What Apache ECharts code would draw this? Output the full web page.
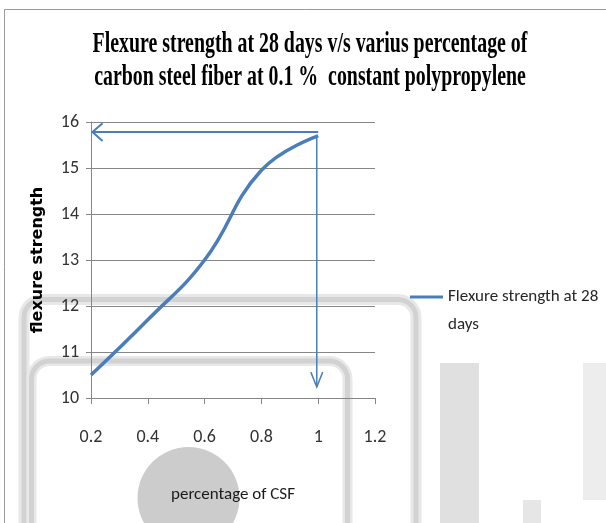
<!DOCTYPE html>
<html>
<head>
<meta charset="utf-8">
<title>Flexure strength</title>
<script src="https://cdn.jsdelivr.net/npm/echarts@6/dist/echarts.min.js"></script>
<style>
  html, body { margin: 0; padding: 0; background: #fff; }
  #chart { width: 606px; height: 523px; }
</style>
</head>
<body>
<div id="chart"></div>
<script>
// 数据
const csfPercent = [0.2, 0.4, 0.6, 0.8, 1.0]
const flexureStrength = [10.5, 11.7, 13.0, 14.95, 15.7]
// 箭头：起点 / 终点（数据坐标）
const arrowFrom = [[1.0, 15.78], [0.995, 15.72]]
const arrowTo = [[0.205, 15.78], [0.995, 10.24]]
const arrowWidth = [2, 1.5]
const titleLines = ['Flexure strength at 28 days v/s varius percentage of', 'carbon steel fiber at 0.1 %  constant polypropylene']

const blue = '#4a7ebb'
const calibri = 'Carlito, "Liberation Sans", sans-serif'

const chart = echarts.init(document.getElementById('chart'))

const option = {
  animation: false,
  backgroundColor: '#fff',
  graphic: [
    // 外框
    { type: 'rect', z: 0, shape: { x: 4.5, y: 9.5, width: 700, height: 600 }, style: { fill: 'none', stroke: '#9a9a9a', lineWidth: 1 } },
    // 背景残影
    { type: 'rect', z: 0, shape: { x: 440, y: 363, width: 39, height: 170 }, style: { fill: '#e0e0e0' } },
    { type: 'rect', z: 0, shape: { x: 583, y: 363, width: 23, height: 137 }, style: { fill: '#ededed' } },
    { type: 'rect', z: 0, shape: { x: 523, y: 500, width: 18, height: 30 }, style: { fill: '#e6e6e6' } },
    { type: 'rect', z: 0, shape: { x: 24, y: 299.5, width: 392, height: 400, r: 18 }, style: { fill: 'none', stroke: '#e8e8e8', lineWidth: 11 } },
    { type: 'rect', z: 0, shape: { x: 24, y: 299.5, width: 392, height: 400, r: 18 }, style: { fill: 'none', stroke: '#d2d2d2', lineWidth: 5 } },
    { type: 'rect', z: 0, shape: { x: 31.5, y: 361, width: 316, height: 300, r: 18 }, style: { fill: 'none', stroke: '#e8e8e8', lineWidth: 10 } },
    { type: 'rect', z: 0, shape: { x: 31.5, y: 361, width: 316, height: 300, r: 18 }, style: { fill: 'none', stroke: '#d2d2d2', lineWidth: 5 } },
    { type: 'circle', z: 0, shape: { cx: 188.5, cy: 498, r: 51 }, style: { fill: '#cccccc' } },
    // 标题
    {
      type: 'text', z: 10, x: 310, y: 45, scaleX: 0.685,
      style: { text: titleLines[0], textAlign: 'center', textVerticalAlign: 'middle', font: 'bold 29px "Liberation Serif", serif', fill: '#000' }
    },
    {
      type: 'text', z: 10, x: 310, y: 78, scaleX: 0.685,
      style: { text: titleLines[1], textAlign: 'center', textVerticalAlign: 'middle', font: 'bold 29px "Liberation Serif", serif', fill: '#000' }
    }
  ],
  legend: {
    left: 410,
    top: 283,
    padding: 0,
    icon: 'path://M0,0h0.01v0.01h-0.01zM0,12.5h33v3h-33zM0,55.99h0.01v0.01h-0.01z',
    itemWidth: 33,
    itemHeight: 56,
    data: ['Flexure strength at 28 days'],
    formatter: () => 'Flexure strength at 28\ndays',
    textStyle: {
      fontFamily: calibri,
      fontSize: 17,
      color: '#262626',
      lineHeight: 28
    }
  },
  grid: {
    left: 91,
    right: 231,
    top: 122,
    bottom: 125
  },
  xAxis: {
    type: 'value',
    min: 0.2,
    max: 1.2,
    interval: 0.2,
    name: 'percentage of CSF',
    nameLocation: 'middle',
    nameGap: 88,
    nameTextStyle: { fontFamily: calibri, fontSize: 17, color: '#1a1a1a' },
    axisLine: { show: true, lineStyle: { color: '#868686', width: 1 } },
    axisTick: { show: true, length: 6, lineStyle: { color: '#868686' } },
    axisLabel: { fontFamily: calibri, fontSize: 18, color: '#333', margin: 30 },
    splitLine: { show: false }
  },
  yAxis: {
    type: 'value',
    min: 10,
    max: 16,
    interval: 1,
    name: 'flexure strength',
    nameLocation: 'middle',
    nameGap: 45,
    nameTextStyle: { fontFamily: '"DejaVu Sans", sans-serif', fontWeight: 'bold', fontSize: 16, color: '#000' },
    axisLine: { show: true, lineStyle: { color: '#868686', width: 1 } },
    axisTick: { show: true, length: 5, lineStyle: { color: '#868686' } },
    axisLabel: { fontFamily: calibri, fontSize: 18, color: '#333', margin: 12 },
    splitLine: { show: true, lineStyle: { color: '#868686', width: 1 } }
  },
  series: [
    {
      name: 'Flexure strength at 28 days',
      type: 'line',
      data: csfPercent.map((x, i) => [x, flexureStrength[i]]),
      smooth: 0.45,
      showSymbol: false,
      symbol: 'none',
      z: 5,
      lineStyle: { color: blue, width: 3.5 },
      itemStyle: { color: blue }
    },
    {
      name: 'arrows',
      type: 'custom',
      z: 4,
      silent: true,
      data: arrowFrom.map((p, i) => [p[0], p[1], arrowTo[i][0], arrowTo[i][1], arrowWidth[i]]),
      encode: { x: [0, 2], y: [1, 3] },
      renderItem: (params, api) => {
        const a = api.coord([api.value(0), api.value(1)])
        const b = api.coord([api.value(2), api.value(3)])
        const w = api.value(4)
        const ang = Math.atan2(b[1] - a[1], b[0] - a[0])
        const horiz = Math.abs(b[0] - a[0]) > Math.abs(b[1] - a[1])
        const len = horiz ? 13.5 : 16
        const spread = horiz ? 0.72 : 0.38
        const p1 = [b[0] - len * Math.cos(ang - spread), b[1] - len * Math.sin(ang - spread)]
        const p2 = [b[0] - len * Math.cos(ang + spread), b[1] - len * Math.sin(ang + spread)]
        const st = { stroke: blue, lineWidth: w, fill: 'none' }
        return {
          type: 'group',
          children: [
            { type: 'line', shape: { x1: a[0], y1: a[1], x2: b[0], y2: b[1] }, style: st },
            { type: 'polyline', shape: { points: [p1, b, p2] }, style: st }
          ]
        }
      }
    }
  ]
}

chart.setOption(option)
</script>
</body>
</html>
